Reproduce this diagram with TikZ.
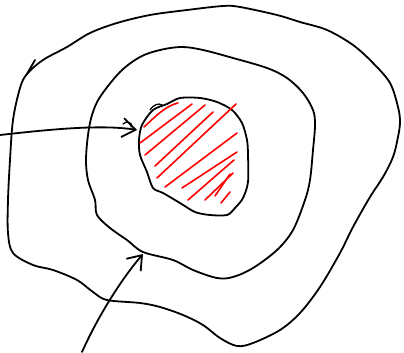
\documentclass[tikz,border=0pt]{standalone}
\usepackage{tikz}
\usetikzlibrary{arrows.meta}

\begin{document}
\begin{tikzpicture}[
    x=1pt, y=-1pt,
    stroke/.style={line width=1.8pt, line cap=round, line join=round, black},
    hatch/.style={line width=1.6pt, line cap=round, red},
    arrow/.style={stroke, -{Straight Barb[length=13pt, width=19pt, line width=1.8pt]}},
]
\useasboundingbox (0,0) rectangle (404,353);

% --- outer ring ---
\draw[stroke] plot[smooth cycle, tension=0.55] coordinates {
    (27,74) (43,60) (67,47) (90,33) (117,23) (150,15) (187,10) (223,6)
    (240,7) (277,15) (300,22) (327,30) (353,45) (373,63) (390,83) (398,107)
    (400,122) (398,137) (393,157) (383,177) (370,197) (353,227) (340,253)
    (320,287) (300,313) (280,330) (253,343) (237,346) (220,338) (203,325)
    (183,315) (160,307) (140,303) (107,300) (93,292) (77,280) (53,270)
    (33,265) (13,253) (8,233) (8,200) (10,160) (13,120) (20,88)};
\draw[stroke] (35,60) -- (27,74);

% --- middle ring ---
\draw[stroke] plot[smooth cycle, tension=0.55] coordinates {
    (100,97) (120,72) (140,57) (160,50) (182,47) (203,50) (233,58) (267,68)
    (287,78) (303,93) (313,110) (315,125) (313,150) (310,180) (305,200)
    (293,230) (277,250) (253,268) (233,277) (217,278) (193,270) (173,260)
    (143,252) (127,240) (110,228) (97,215) (95,200) (88,180) (86,160)
    (88,135) (92,115)};

% --- core ---
\draw[stroke] plot[smooth cycle, tension=0.5] coordinates {
    (153,110) (167,104) (180,98) (200,98) (217,102) (232,110) (242,123)
    (247,140) (248,155) (248,182) (243,198) (235,208) (227,215) (210,215)
    (195,212) (180,203) (163,193) (153,188) (147,172) (140,155) (139,140)
    (142,125)};
\draw[stroke, line width=1.3pt] (150,110) .. controls (154,104) and (159,103) .. (162,105);

% hatching
\draw[hatch] (144,127) .. controls (155,117) and (165,106) .. (178,103);
\draw[hatch] (140,143) -- (192,104);
\draw[hatch] (145,155) -- (205,105);
\draw[hatch] (155,166) -- (213,112);
\draw[hatch] (157,178) -- (236,104);
\draw[hatch] (165,187) -- (237,133);
\draw[hatch] (182,188) -- (237,152);
\draw[hatch] (188,200) -- (234,160);
\draw[hatch] (205,200) -- (233,173);
\draw[hatch] (215,196) -- (230,174);
\draw[hatch] (221,203) -- (230,192);

% --- arrows ---
\coordinate (left) at (0,135);
\coordinate (core) at (137,130);
\coordinate (bottom) at (82,352);
\coordinate (ring) at (143,254);
\draw[arrow] (left) .. controls (45,130) and (100,124) .. (core);
\draw[stroke, line width=1.3pt] (123,124) .. controls (126,120) and (134,123) .. (131,127);
\draw[arrow] (bottom) .. controls (100,312) and (124,276) .. (ring);

\end{tikzpicture}
\end{document}
